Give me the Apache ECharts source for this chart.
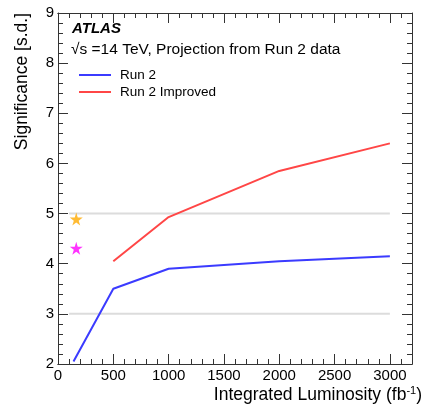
<!DOCTYPE html>
<html><head><meta charset="utf-8">
<script src="https://cdn.jsdelivr.net/npm/echarts@6/dist/echarts.min.js"></script>
<style>html,body{margin:0;padding:0;background:#fff}#c{width:425px;height:405px}</style>
</head><body><div id="c"></div>
<script>
const run2X = [140, 500, 1000, 2000, 3000];
const run2Y = [2.05, 3.5, 3.9, 4.05, 4.15];
const impX = [500, 1000, 2000, 3000];
const impY = [4.05, 4.93, 5.85, 6.4];
const starOrange = [165, 4.89];
const starMagenta = [165, 4.31];
const refLevels = [3, 5];
const refRange = [100, 3000];
const xTicks = [0, 500, 1000, 1500, 2000, 2500, 3000];
const yTicks = [2, 3, 4, 5, 6, 7, 8, 9];

const FONT = 'Liberation Sans, Arial, sans-serif';
const star = 'path://M50,0 L61,35 L98,35 L68,57 L79,91 L50,70 L21,91 L32,57 L2,35 L39,35 Z';
const axisCol = '#333';
const chart = echarts.init(document.getElementById('c'));

function xAx(pos, interval, len, labels) {
  return {
    type: 'value', min: 0, max: 3200, interval: interval, position: pos,
    axisLine: { show: true, onZero: false, lineStyle: { color: axisCol, width: 1 } },
    axisTick: { show: true, inside: true, length: len, lineStyle: { color: axisCol } },
    splitLine: { show: false },
    axisLabel: labels ? {
      show: true, fontFamily: FONT, fontSize: 15, color: '#000', margin: 4,
      formatter: v => xTicks.includes(v) ? String(v) : ''
    } : { show: false },
    name: labels ? 'Integrated Luminosity (fb{s|-1})' : '',
    nameLocation: 'end', nameGap: 0,
    nameTextStyle: labels ? {
      fontFamily: FONT, fontSize: 17.5, color: '#000', align: 'right', verticalAlign: 'top',
      padding: [21, -10, 0, 0],
      rich: { s: { fontSize: 11, verticalAlign: 'top', fontFamily: FONT, color: '#000', padding: [0, 0, 9, 0] } }
    } : {}
  };
}
function yAx(pos, labels) {
  return {
    type: 'value', min: 2, max: 9, interval: 1, position: pos,
    axisLine: { show: true, onZero: false, lineStyle: { color: axisCol, width: 1 } },
    axisTick: { show: true, inside: true, length: 10, lineStyle: { color: axisCol } },
    minorTick: { show: true, splitNumber: 5, length: 5, lineStyle: { color: axisCol } },
    splitLine: { show: false },
    axisLabel: labels ? {
      show: true, fontFamily: FONT, fontSize: 15, color: '#000', margin: 4,
      formatter: v => yTicks.includes(v) ? String(v) : ''
    } : { show: false },
    name: labels ? 'Significance [s.d.]' : '',
    nameLocation: 'end', nameRotate: 90, nameGap: 0,
    nameTextStyle: labels ? { fontFamily: FONT, fontSize: 17.5, color: '#000', align: 'right', verticalAlign: 'bottom', padding: [0, 0, 27, 0] } : {}
  };
}

const series = [
  { name: 'Run 2', type: 'line', data: run2X.map((x, i) => [x, run2Y[i]]), showSymbol: false, symbol: 'none',
    lineStyle: { color: '#3b3bff', width: 2 }, itemStyle: { color: '#3b3bff' }, z: 5 },
  { name: 'Run 2 Improved', type: 'line', data: impX.map((x, i) => [x, impY[i]]), showSymbol: false, symbol: 'none',
    lineStyle: { color: '#ff4646', width: 2 }, itemStyle: { color: '#ff4646' }, z: 5 },
  { name: 'starO', type: 'scatter', data: [starOrange], symbol: star, symbolSize: 13, itemStyle: { color: '#ffaa00' } },
  { name: 'starM', type: 'scatter', data: [starMagenta], symbol: star, symbolSize: 13, itemStyle: { color: '#ff00ff' } }
];
refLevels.forEach((lv, i) => series.push({
  name: 'ref' + i, type: 'line', data: refRange.map(x => [x, lv]), symbol: 'none', silent: true,
  lineStyle: { color: '#dcdcdc', width: 2 }, z: 1
}));

chart.setOption({
  animation: false,
  textStyle: { fontFamily: FONT },
  grid: { left: 58, right: 12, top: 13, bottom: 41, containLabel: false },
  xAxis: [xAx('bottom', 500, 10, true), xAx('bottom', 100, 5, false), xAx('top', 500, 10, false), xAx('top', 100, 5, false)],
  yAxis: [yAx('left', true), yAx('right', false)],
  legend: {
    data: ['Run 2', 'Run 2 Improved'], orient: 'vertical', left: 74, top: 63,
    itemWidth: 32, itemHeight: 2, itemGap: 3, icon: 'rect',
    textStyle: { fontFamily: FONT, fontSize: 13.5, lineHeight: 14, color: '#000', padding: [0, 0, 0, 4] }
  },
  graphic: [
    { type: 'text', left: 72, top: 21, style: { text: 'ATLAS', font: 'italic bold 15px ' + FONT, fill: '#000' } },
    { type: 'text', left: 71, top: 42, style: { text: '√s =14 TeV, Projection from Run 2 data', font: '15.5px ' + FONT, fill: '#000' } }
  ],
  series: series
});
</script></body></html>
